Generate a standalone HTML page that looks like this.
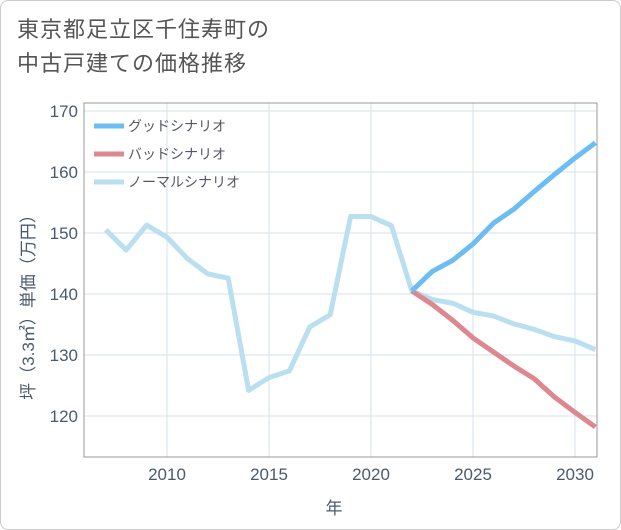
<!DOCTYPE html>
<html><head><meta charset="utf-8"><style>
body{margin:0;background:#fff;font-family:"Liberation Sans","Noto Sans CJK JP",sans-serif;}
#wrap{position:relative;width:619px;height:528px;border:1px solid #ccc;border-radius:8px;overflow:hidden;background:#fff}
#title{position:absolute;left:16px;top:12px;font-size:22px;line-height:34px;color:#555;letter-spacing:1px}
</style></head><body>
<div id="wrap">
<div id="title">東京都足立区千住寿町の<br>中古戸建ての価格推移</div>
<svg id="chart" width="621" height="530" style="position:absolute;left:-1px;top:-1px"></svg>
</div>
<script>
const years=[2007,2008,2009,2010,2011,2012,2013,2014,2015,2016,2017,2018,2019,2020,2021,2022,2023,2024,2025,2026,2027,2028,2029,2030,2031];
const normalVals=[150.5,147.2,151.3,149.3,145.8,143.3,142.6,124.2,126.3,127.4,134.6,136.6,152.7,152.7,151.2,140.5,139.1,138.5,137.0,136.4,135.1,134.2,133.0,132.3,130.9];
const goodYears=[2022,2023,2024,2025,2026,2027,2028,2029,2030,2031];
const goodVals=[140.5,143.7,145.5,148.2,151.6,153.9,156.8,159.6,162.3,164.8];
const badVals=[140.5,138.3,135.7,132.8,130.5,128.2,126.1,123.1,120.6,118.2];
const xTicks=[2010,2015,2020,2025,2030];
const yTicks=[120,130,140,150,160,170];
const L=84,R=597,T=103,B=457;
function xs(v){return 167+(v-2010)*20.4;}
function ys(v){return 416-(v-120)*6.1;}
const NS="http://www.w3.org/2000/svg";
const svg=document.getElementById('chart');
function mk(t,a){const e=document.createElementNS(NS,t);for(const k in a)e.setAttribute(k,a[k]);svg.appendChild(e);return e;}
const defs=mk('defs',{});
const cp=document.createElementNS(NS,'clipPath');cp.setAttribute('id','clip');
const cr=document.createElementNS(NS,'rect');cr.setAttribute('x',L);cr.setAttribute('y',T);cr.setAttribute('width',R-L);cr.setAttribute('height',B-T);
cp.appendChild(cr);defs.appendChild(cp);
for(const t of xTicks){
 const g=mk('line',{x1:xs(t),x2:xs(t),y1:T,y2:B,stroke:'#d5e2ea','stroke-width':1});
 
 const tx=mk('text',{x:xs(t),y:B+23,'text-anchor':'middle','font-size':17,fill:'#4a5a6e'});
 tx.textContent=t;
 
}
for(const t of yTicks){
 const g=mk('line',{x1:L,x2:R,y1:ys(t),y2:ys(t),stroke:'#d5e2ea','stroke-width':1});
 
 const tx=mk('text',{x:L-6,y:ys(t)+6,'text-anchor':'end','font-size':17,fill:'#4a5a6e'});
 tx.textContent=t;
 
}
const fr=mk('rect',{x:L,y:T,width:R-L,height:B-T,fill:'none',stroke:'#999','stroke-width':1});

function series(xv,yv,color,name){
 const p=mk('polyline',{points:xv.map((x,i)=>xs(x)+','+ys(yv[i])).join(' '),fill:'none',stroke:color,'stroke-width':5,'stroke-linejoin':'round','clip-path':'url(#clip)'});
 
}
series(years,normalVals,'#b9dff0','normal-scenario-line');
series(goodYears,badVals,'#dd8890','bad-scenario-line');
series(goodYears,goodVals,'#6bbdf2','good-scenario-line');
const leg=[['グッドシナリオ','#6bbdf2'],['バッドシナリオ','#dd8890'],['ノーマルシナリオ','#b9dff0']];
leg.forEach((l,i)=>{
 const y=126+i*28;
 const ln=mk('line',{x1:94,x2:124,y1:y,y2:y,stroke:l[1],'stroke-width':5});
 
 const tx=mk('text',{x:128,y:y+5,'font-size':14,fill:'#556'});
 tx.textContent=l[0];
 
});
const xt=mk('text',{x:334,y:514,'text-anchor':'middle','font-size':17,fill:'#4a5a6e'});
xt.textContent='年';

const yt=mk('text',{x:0,y:0,'text-anchor':'middle','font-size':17,fill:'#4a5a6e',transform:'translate(34,303) rotate(-90)'});
yt.textContent='坪（3.3㎡）単価（万円）';

</script>
</body></html>
